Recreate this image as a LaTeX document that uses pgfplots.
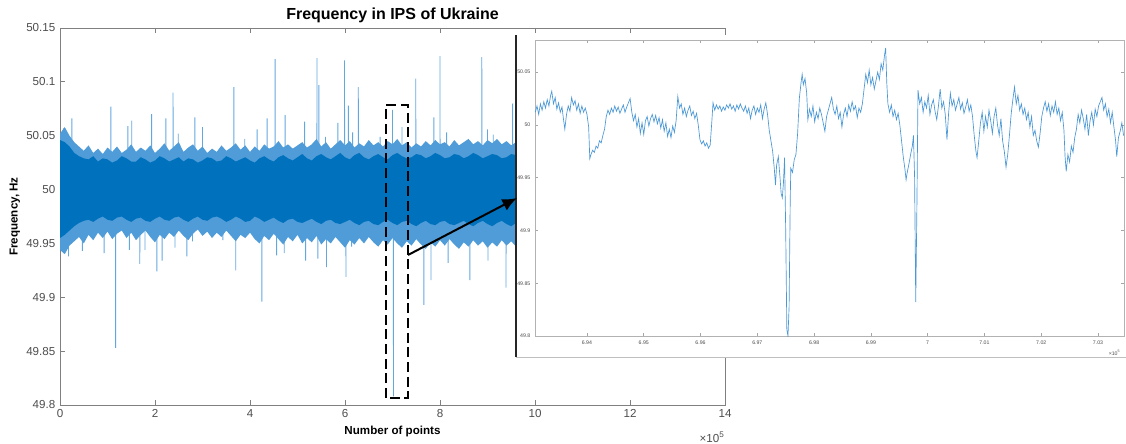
\documentclass[border=0pt]{standalone}
\usepackage{pgfplots}
\pgfplotsset{compat=1.18}
\usetikzlibrary{arrows.meta}
\usepackage{fontspec}
\setmainfont{Liberation Sans}
\definecolor{mblue}{HTML}{0072BD}
\definecolor{lblue}{HTML}{4F9CD8}
\definecolor{spk}{HTML}{62A8DE}
\definecolor{ilne}{HTML}{4A98D6}
\definecolor{axgray}{HTML}{808080}
\definecolor{txgray}{HTML}{4D4D4D}
\begin{document}
\begin{tikzpicture}[x=0.75pt,y=0.75pt]
\path[use as bounding box] (0,0) rectangle (1126,443);
\begin{axis}[
  at={(45pt,28.5pt)}, anchor=south west, scale only axis,
  width=498.75pt, height=282.75pt,
  xmin=0, xmax=14, ymin=49.8, ymax=50.15,
  xtick={0,2,4,6,8,10,12,14}, xticklabels={0,2,4,6,8,10,12,14},
  ytick={49.8,49.85,49.9,49.95,50,50.05,50.1,50.15},
  yticklabels={49.8,49.85,49.9,49.95,50,50.05,50.1,50.15},
  tick align=inside, major tick length=3.75pt,
  axis line style={axgray, line width=0.6pt},
  tick style={axgray, line width=0.6pt},
  ticklabel style={font=\fontsize{8.7}{10}\selectfont, text=txgray},
  /pgf/number format/assume math mode=true,
  title={Frequency in IPS of Ukraine},
  title style={font=\bfseries\fontsize{12}{14}\selectfont, at={(axis description cs:0.5,1.013)}, anchor=center},
  xlabel={Number of points},
  xlabel style={font=\bfseries\fontsize{8.7}{10}\selectfont, at={(axis description cs:0.5,-0.07)}, anchor=center},
  ylabel={Frequency, Hz},
  ylabel style={font=\bfseries\fontsize{8.7}{10}\selectfont, at={(axis description cs:-0.068,0.5)}, anchor=center, rotate=0},
]
% spikes (drawn first, the band covers their roots)
\addplot[spk, line width=0.65pt] coordinates {
(0.078,50) (0.08,50.057) (0.082,50)
(0.178,50) (0.18,49.938) (0.182,50)
(0.248,50) (0.25,50.066) (0.252,50)
(0.468,50) (0.47,49.943) (0.472,50)
(0.928,50) (0.93,49.941) (0.932,50)
(1.068,50) (1.07,50.077) (1.072,50)
(1.168,50) (1.17,49.853) (1.172,50)
(1.428,50) (1.43,50.059) (1.432,50)
(1.458,50) (1.46,49.944) (1.462,50)
(1.508,50) (1.51,50.064) (1.512,50)
(1.678,50) (1.68,49.931) (1.682,50)
(1.788,50) (1.79,49.944) (1.792,50)
(1.928,50) (1.93,50.070) (1.932,50)
(2.038,50) (2.04,49.924) (2.042,50)
(2.148,50) (2.15,49.934) (2.152,50)
(2.228,50) (2.23,50.066) (2.232,50)
(2.378,50) (2.38,50.090) (2.382,50)
(2.418,50) (2.42,49.946) (2.422,50)
(2.488,50) (2.49,50.052) (2.492,50)
(2.668,50) (2.67,49.938) (2.672,50)
(2.788,50) (2.79,49.952) (2.792,50)
(2.838,50) (2.84,50.067) (2.842,50)
(2.998,50) (3.00,50.058) (3.002,50)
(3.428,50) (3.43,49.953) (3.432,50)
(3.658,50) (3.66,50.095) (3.662,50)
(3.698,50) (3.70,49.925) (3.702,50)
(3.888,50) (3.89,50.047) (3.892,50)
(4.148,50) (4.15,50.056) (4.152,50)
(4.248,50) (4.25,49.896) (4.252,50)
(4.358,50) (4.36,50.066) (4.362,50)
(4.528,50) (4.53,50.121) (4.532,50)
(4.558,50) (4.56,49.939) (4.562,50)
(4.718,50) (4.72,49.941) (4.722,50)
(4.738,50) (4.74,50.069) (4.742,50)
(5.148,50) (5.15,50.063) (5.152,50)
(5.168,50) (5.17,49.934) (5.172,50)
(5.408,50) (5.41,50.122) (5.412,50)
(5.428,50) (5.43,49.936) (5.432,50)
(5.448,50) (5.45,50.097) (5.452,50)
(5.588,50) (5.59,50.049) (5.592,50)
(5.608,50) (5.61,49.928) (5.612,50)
(5.848,50) (5.85,50.062) (5.852,50)
(5.988,50) (5.99,50.120) (5.992,50)
(6.018,50) (6.02,49.919) (6.022,50)
(6.068,50) (6.07,50.078) (6.072,50)
(6.138,50) (6.14,49.947) (6.142,50)
(6.158,50) (6.16,50.053) (6.162,50)
(6.278,50) (6.28,50.095) (6.282,50)
(6.488,50) (6.49,50.043) (6.492,50)
(6.738,50) (6.74,50.049) (6.742,50)
(6.998,50) (7.00,50.074) (7.002,50)
(7.018,50) (7.02,49.808) (7.022,50)
(7.198,50) (7.20,50.058) (7.202,50)
(7.488,50) (7.49,50.103) (7.492,50)
(7.658,50) (7.66,49.893) (7.662,50)
(7.808,50) (7.81,49.916) (7.812,50)
(7.868,50) (7.87,50.067) (7.872,50)
(7.998,50) (8.00,50.124) (8.002,50)
(8.138,50) (8.14,50.053) (8.142,50)
(8.168,50) (8.17,49.932) (8.172,50)
(8.628,50) (8.63,49.916) (8.632,50)
(8.878,50) (8.88,50.123) (8.882,50)
(8.998,50) (9.00,50.056) (9.002,50)
(9.008,50) (9.01,49.934) (9.012,50)
(9.118,50) (9.12,50.051) (9.122,50)
(9.388,50) (9.39,49.909) (9.392,50)
(9.528,50) (9.53,50.080) (9.532,50)
};
% light fuzz band
\addplot[draw=none, fill=lblue] coordinates {
(0.0,50.052) (0.1,50.058) (0.2,50.050) (0.3,50.044) (0.4,50.040) (0.5,50.036) (0.6,50.041) (0.7,50.034) (0.8,50.038) (0.9,50.033)
(1.0,50.039) (1.1,50.035) (1.2,50.040) (1.3,50.034) (1.4,50.037) (1.5,50.042) (1.6,50.035) (1.7,50.039) (1.8,50.036) (1.9,50.041)
(2.0,50.034) (2.1,50.038) (2.2,50.043) (2.3,50.036) (2.4,50.040) (2.5,50.044) (2.6,50.035) (2.7,50.039) (2.8,50.042) (2.9,50.036)
(3.0,50.040) (3.1,50.034) (3.2,50.038) (3.3,50.035) (3.4,50.041) (3.5,50.036) (3.6,50.039) (3.7,50.043) (3.8,50.037) (3.9,50.041)
(4.0,50.035) (4.1,50.040) (4.2,50.036) (4.3,50.042) (4.4,50.038) (4.5,50.040) (4.6,50.045) (4.7,50.039) (4.8,50.042) (4.9,50.038)
(5.0,50.041) (5.1,50.044) (5.2,50.039) (5.3,50.042) (5.4,50.047) (5.5,50.040) (5.6,50.044) (5.7,50.038) (5.8,50.042) (5.9,50.046)
(6.0,50.041) (6.1,50.045) (6.2,50.039) (6.3,50.043) (6.4,50.040) (6.5,50.046) (6.6,50.041) (6.7,50.044) (6.8,50.040) (6.9,50.045)
(7.0,50.042) (7.1,50.047) (7.2,50.041) (7.3,50.044) (7.4,50.039) (7.5,50.043) (7.6,50.040) (7.7,50.045) (7.8,50.041) (7.9,50.046)
(8.0,50.042) (8.1,50.044) (8.2,50.040) (8.3,50.046) (8.4,50.041) (8.5,50.044) (8.6,50.047) (8.7,50.042) (8.8,50.045) (8.9,50.041)
(9.0,50.046) (9.1,50.043) (9.2,50.047) (9.3,50.042) (9.4,50.045) (9.5,50.041) (9.6,50.044) (9.7,50.042) (9.8,50.045) (9.9,50.043) (10.0,50.044)
(10.0,49.949) (9.9,49.952) (9.8,49.948) (9.7,49.951) (9.6,49.947) (9.5,49.952) (9.4,49.948) (9.3,49.953) (9.2,49.947) (9.1,49.951) (9.0,49.946)
(8.9,49.952) (8.8,49.948) (8.7,49.953) (8.6,49.947) (8.5,49.951) (8.4,49.945) (8.3,49.949) (8.2,49.954) (8.1,49.948) (8.0,49.953)
(7.9,49.947) (7.8,49.951) (7.7,49.945) (7.6,49.949) (7.5,49.954) (7.4,49.948) (7.3,49.952) (7.2,49.946) (7.1,49.950) (7.0,49.955)
(6.9,49.949) (6.8,49.953) (6.7,49.947) (6.6,49.951) (6.5,49.956) (6.4,49.950) (6.3,49.955) (6.2,49.949) (6.1,49.953) (6.0,49.946)
(5.9,49.951) (5.8,49.956) (5.7,49.950) (5.6,49.954) (5.5,49.949) (5.4,49.957) (5.3,49.951) (5.2,49.955) (5.1,49.950) (5.0,49.958)
(4.9,49.952) (4.8,49.956) (4.7,49.949) (4.6,49.954) (4.5,49.959) (4.4,49.953) (4.3,49.957) (4.2,49.950) (4.1,49.954) (4.0,49.960)
(3.9,49.955) (3.8,49.958) (3.7,49.952) (3.6,49.957) (3.5,49.962) (3.4,49.956) (3.3,49.960) (3.2,49.955) (3.1,49.961) (3.0,49.957)
(2.9,49.963) (2.8,49.959) (2.7,49.953) (2.6,49.957) (2.5,49.962) (2.4,49.956) (2.3,49.960) (2.2,49.954) (2.1,49.958) (2.0,49.951)
(1.9,49.956) (1.8,49.962) (1.7,49.958) (1.6,49.953) (1.5,49.960) (1.4,49.955) (1.3,49.962) (1.2,49.959) (1.1,49.954) (1.0,49.961)
(0.9,49.955) (0.8,49.960) (0.7,49.953) (0.6,49.958) (0.5,49.950) (0.4,49.956) (0.3,49.952) (0.2,49.948) (0.1,49.940) (0.0,49.944)
};
% dark core band
\addplot[draw=none, fill=mblue] coordinates {
(0.0,50.046) (0.1,50.044) (0.2,50.040) (0.3,50.034) (0.4,50.031) (0.5,50.029) (0.6,50.028) (0.7,50.031) (0.8,50.026) (0.9,50.029)
(1.0,50.028) (1.1,50.025) (1.2,50.027) (1.3,50.031) (1.4,50.029) (1.5,50.026) (1.6,50.026) (1.7,50.030) (1.8,50.028) (1.9,50.025)
(2.0,50.027) (2.1,50.031) (2.2,50.029) (2.3,50.026) (2.4,50.028) (2.5,50.030) (2.6,50.026) (2.7,50.029) (2.8,50.028) (2.9,50.025)
(3.0,50.027) (3.1,50.030) (3.2,50.029) (3.3,50.026) (3.4,50.027) (3.5,50.031) (3.6,50.029) (3.7,50.026) (3.8,50.028) (3.9,50.030)
(4.0,50.027) (4.1,50.025) (4.2,50.029) (4.3,50.031) (4.4,50.028) (4.5,50.026) (4.6,50.030) (4.7,50.032) (4.8,50.029) (4.9,50.027)
(5.0,50.030) (5.1,50.033) (5.2,50.029) (5.3,50.027) (5.4,50.031) (5.5,50.033) (5.6,50.030) (5.7,50.028) (5.8,50.031) (5.9,50.034)
(6.0,50.030) (6.1,50.028) (6.2,50.032) (6.3,50.034) (6.4,50.030) (6.5,50.028) (6.6,50.031) (6.7,50.033) (6.8,50.030) (6.9,50.028)
(7.0,50.032) (7.1,50.034) (7.2,50.031) (7.3,50.029) (7.4,50.030) (7.5,50.033) (7.6,50.032) (7.7,50.029) (7.8,50.031) (7.9,50.034)
(8.0,50.032) (8.1,50.029) (8.2,50.030) (8.3,50.033) (8.4,50.032) (8.5,50.029) (8.6,50.031) (8.7,50.034) (8.8,50.032) (8.9,50.029)
(9.0,50.031) (9.1,50.033) (9.2,50.032) (9.3,50.029) (9.4,50.030) (9.5,50.033) (9.6,50.032) (9.7,50.030) (9.8,50.031) (9.9,50.033) (10.0,50.031)
(10.0,49.969) (9.9,49.967) (9.8,49.968) (9.7,49.971) (9.6,49.969) (9.5,49.966) (9.4,49.968) (9.3,49.971) (9.2,49.969) (9.1,49.966)
(9.0,49.968) (8.9,49.971) (8.8,49.969) (8.7,49.966) (8.6,49.968) (8.5,49.971) (8.4,49.969) (8.3,49.967) (8.2,49.968) (8.1,49.971)
(8.0,49.970) (7.9,49.967) (7.8,49.968) (7.7,49.971) (7.6,49.969) (7.5,49.966) (7.4,49.968) (7.3,49.971) (7.2,49.970) (7.1,49.967)
(7.0,49.969) (6.9,49.972) (6.8,49.970) (6.7,49.967) (6.6,49.968) (6.5,49.971) (6.4,49.970) (6.3,49.967) (6.2,49.969) (6.1,49.972)
(6.0,49.970) (5.9,49.968) (5.8,49.969) (5.7,49.972) (5.6,49.971) (5.5,49.968) (5.4,49.970) (5.3,49.973) (5.2,49.971) (5.1,49.969)
(5.0,49.970) (4.9,49.973) (4.8,49.972) (4.7,49.969) (4.6,49.971) (4.5,49.974) (4.4,49.972) (4.3,49.970) (4.2,49.973) (4.1,49.975)
(4.0,49.971) (3.9,49.970) (3.8,49.973) (3.7,49.975) (3.6,49.972) (3.5,49.970) (3.4,49.973) (3.3,49.975) (3.2,49.974) (3.1,49.971)
(3.0,49.972) (2.9,49.975) (2.8,49.973) (2.7,49.970) (2.6,49.972) (2.5,49.975) (2.4,49.974) (2.3,49.971) (2.2,49.972) (2.1,49.975)
(2.0,49.973) (1.9,49.970) (1.8,49.971) (1.7,49.974) (1.6,49.973) (1.5,49.970) (1.4,49.972) (1.3,49.975) (1.2,49.974) (1.1,49.971)
(1.0,49.972) (0.9,49.975) (0.8,49.973) (0.7,49.970) (0.6,49.972) (0.5,49.971) (0.4,49.969) (0.3,49.966) (0.2,49.962) (0.1,49.958) (0.0,49.955)
};
\draw[black, line width=1.5pt, dash pattern=on 7.5pt off 3.5pt] (axis cs:6.863,49.8066) rectangle (axis cs:7.326,50.0785);
\end{axis}
\node[font=\fontsize{8.7}{10}\selectfont, text=txgray] at (712,6) {×10\textsuperscript{5}};
% inset panel
\fill[white] (516,86) rectangle (1126,408);
\draw[black!85, line width=1.5pt] (516,86) -- (516,408);
\draw[gray!50, line width=0.6pt] (516,86) -- (1126,86);
\begin{axis}[
  at={(401.25pt,80.25pt)}, anchor=south west, scale only axis,
  width=441.75pt, height=222pt,
  xmin=6.93085, xmax=7.03458, ymin=49.8, ymax=50.0805,
  xtick={6.94,6.95,6.96,6.97,6.98,6.99,7,7.01,7.02,7.03},
  xticklabels={6.94,6.95,6.96,6.97,6.98,6.99,7,7.01,7.02,7.03},
  ytick={49.8,49.85,49.9,49.95,50,50.05},
  yticklabels={49.8,49.85,49.9,49.95,50,50.05},
  tick align=inside, major tick length=2.5pt,
  axis line style={gray!60, line width=0.5pt},
  tick style={gray!70, line width=0.5pt},
  ticklabel style={font=\fontsize{3.9}{4.5}\selectfont, text=txgray},
  /pgf/number format/assume math mode=true,
]
\addplot[ilne, line width=0.5pt] coordinates {
(6.9309,50.012) (6.9312,50.018) (6.9315,50.010) (6.9318,50.020) (6.9321,50.014) (6.9324,50.022) (6.9327,50.016) (6.9330,50.024)
(6.9333,50.018) (6.9336,50.028) (6.9338,50.032) (6.9341,50.020) (6.9344,50.026) (6.9347,50.015) (6.9350,50.021) (6.9353,50.012)
(6.9356,50.017) (6.9359,50.004) (6.9361,49.996) (6.9364,50.010) (6.9367,50.018) (6.9370,50.013) (6.9373,50.026) (6.9376,50.019)
(6.9379,50.023) (6.9382,50.014) (6.9385,50.020) (6.9388,50.011) (6.9391,50.018) (6.9394,50.012) (6.9397,50.016) (6.9400,50.010)
(6.9403,49.998) (6.9405,49.968) (6.9407,49.972) (6.9410,49.976) (6.9413,49.974) (6.9416,49.980) (6.9419,49.978) (6.9422,49.985)
(6.9425,49.983) (6.9428,49.990) (6.9431,49.996) (6.9434,50.008) (6.9437,50.014) (6.9440,50.010) (6.9443,50.016) (6.9446,50.012)
(6.9449,50.018) (6.9452,50.013) (6.9455,50.017) (6.9458,50.011) (6.9461,50.015) (6.9464,50.019) (6.9467,50.012) (6.9470,50.017)
(6.9473,50.021) (6.9476,50.025) (6.9479,50.012) (6.9482,50.004) (6.9485,50.010) (6.9488,49.998) (6.9491,50.006) (6.9494,49.992)
(6.9497,50.002) (6.9500,49.991) (6.9503,50.004) (6.9506,50.008) (6.9509,49.999) (6.9512,50.006) (6.9515,50.010) (6.9518,50.003)
(6.9521,50.009) (6.9524,50.001) (6.9527,50.007) (6.9530,49.997) (6.9533,50.005) (6.9536,49.994) (6.9539,50.002) (6.9542,49.989)
(6.9545,49.996) (6.9548,49.988) (6.9551,49.999) (6.9554,49.993) (6.9557,50.004) (6.9560,50.027) (6.9563,50.016) (6.9566,50.020)
(6.9569,50.010) (6.9572,50.016) (6.9575,50.008) (6.9578,50.014) (6.9581,50.018) (6.9584,50.009) (6.9587,50.013) (6.9590,50.006)
(6.9593,50.011) (6.9596,50.000) (6.9599,49.986) (6.9602,49.982) (6.9605,49.985) (6.9608,49.980) (6.9611,49.983) (6.9614,49.978)
(6.9617,49.981) (6.9620,50.004) (6.9622,50.021) (6.9625,50.014) (6.9628,50.019) (6.9631,50.015) (6.9634,50.018) (6.9637,50.013)
(6.9640,50.017) (6.9643,50.014) (6.9646,50.019) (6.9649,50.016) (6.9652,50.020) (6.9655,50.015) (6.9658,50.018) (6.9661,50.013)
(6.9664,50.019) (6.9667,50.015) (6.9670,50.020) (6.9673,50.016) (6.9676,50.013) (6.9679,50.018) (6.9682,50.011) (6.9685,50.016)
(6.9688,50.006) (6.9691,50.014) (6.9694,50.018) (6.9697,50.010) (6.9700,50.016) (6.9703,50.012) (6.9706,50.019) (6.9709,50.006)
(6.9712,50.015) (6.9715,50.021) (6.9718,50.010) (6.9721,49.995) (6.9724,49.985) (6.9727,49.975) (6.9730,49.958) (6.9732,49.943)
(6.9734,49.962) (6.9737,49.970) (6.9740,49.950) (6.9742,49.935) (6.9744,49.931) (6.9746,49.945) (6.9748,49.969) (6.9750,49.900)
(6.9752,49.806) (6.9754,49.800) (6.9756,49.828) (6.9758,49.930) (6.9759,49.959) (6.9762,49.955) (6.9765,49.967) (6.9768,49.972)
(6.9771,49.992) (6.9774,50.025) (6.9777,50.040) (6.9779,50.048) (6.9781,50.038) (6.9784,50.044) (6.9787,50.030) (6.9789,50.005)
(6.9792,50.015) (6.9795,50.008) (6.9798,50.018) (6.9801,50.003) (6.9804,50.012) (6.9807,50.006) (6.9810,50.016) (6.9813,50.010)
(6.9816,50.002) (6.9819,49.994) (6.9822,50.008) (6.9825,50.014) (6.9828,50.020) (6.9831,50.026) (6.9834,50.015) (6.9837,50.010)
(6.9840,50.018) (6.9843,50.006) (6.9846,50.012) (6.9849,49.998) (6.9852,50.010) (6.9855,50.016) (6.9858,50.008) (6.9861,50.019)
(6.9864,50.013) (6.9867,50.022) (6.9870,50.014) (6.9873,50.018) (6.9876,50.007) (6.9879,50.016) (6.9882,50.012) (6.9885,50.020)
(6.9888,50.034) (6.9891,50.048) (6.9894,50.040) (6.9897,50.052) (6.9900,50.038) (6.9903,50.045) (6.9906,50.034) (6.9909,50.042)
(6.9912,50.050) (6.9915,50.043) (6.9918,50.058) (6.9921,50.052) (6.9924,50.066) (6.9926,50.073) (6.9928,50.040) (6.9930,50.020)
(6.9933,50.012) (6.9936,50.019) (6.9939,50.008) (6.9942,50.014) (6.9945,50.005) (6.9948,50.011) (6.9951,50.000) (6.9954,49.985)
(6.9957,49.970) (6.9960,49.958) (6.9962,49.948) (6.9964,49.955) (6.9967,49.963) (6.9970,49.972) (6.9973,49.980) (6.9975,49.990)
(6.9977,49.950) (6.9979,49.832) (6.9981,49.920) (6.9983,50.033) (6.9986,50.020) (6.9989,50.026) (6.9992,50.012) (6.9995,50.022)
(6.9998,50.016) (7.0001,50.028) (7.0004,50.010) (7.0007,50.019) (7.0010,50.024) (7.0013,50.013) (7.0016,50.005) (7.0019,50.018)
(7.0022,50.034) (7.0025,50.016) (7.0028,50.022) (7.0031,50.010) (7.0034,49.986) (7.0037,50.012) (7.0040,50.030) (7.0043,50.018)
(7.0046,50.024) (7.0049,50.014) (7.0052,50.020) (7.0055,50.026) (7.0058,50.015) (7.0061,50.021) (7.0064,50.011) (7.0067,50.017)
(7.0070,50.024) (7.0073,50.013) (7.0076,50.019) (7.0079,50.008) (7.0082,49.990) (7.0085,49.975) (7.0087,49.969) (7.0090,49.985)
(7.0093,50.002) (7.0096,50.012) (7.0099,49.994) (7.0102,50.008) (7.0105,49.998) (7.0108,50.014) (7.0111,50.004) (7.0114,49.992)
(7.0117,50.008) (7.0120,50.016) (7.0123,50.000) (7.0126,49.990) (7.0129,50.006) (7.0132,49.985) (7.0135,49.975) (7.0138,49.960)
(7.0141,49.972) (7.0144,49.990) (7.0147,50.010) (7.0150,50.024) (7.0153,50.036) (7.0156,50.020) (7.0159,50.028) (7.0162,50.014)
(7.0165,50.020) (7.0168,50.010) (7.0171,50.016) (7.0174,50.005) (7.0177,50.012) (7.0180,49.998) (7.0183,50.008) (7.0186,49.990)
(7.0189,49.995) (7.0192,49.985) (7.0195,49.979) (7.0198,49.992) (7.0201,50.008) (7.0204,50.016) (7.0207,50.022) (7.0210,50.013)
(7.0213,50.020) (7.0216,50.009) (7.0219,50.018) (7.0222,50.012) (7.0225,50.022) (7.0228,50.010) (7.0231,50.016) (7.0234,50.004)
(7.0237,50.012) (7.0240,49.995) (7.0242,49.970) (7.0244,49.956) (7.0247,49.972) (7.0250,49.965) (7.0253,49.980) (7.0256,49.974)
(7.0259,49.988) (7.0262,49.996) (7.0265,50.010) (7.0268,50.002) (7.0271,50.014) (7.0274,50.006) (7.0277,49.996) (7.0280,50.010)
(7.0283,49.990) (7.0286,50.004) (7.0289,50.012) (7.0292,50.000) (7.0295,50.015) (7.0298,50.008) (7.0301,50.018) (7.0304,50.022)
(7.0307,50.026) (7.0310,50.014) (7.0313,50.020) (7.0316,50.008) (7.0319,50.015) (7.0322,50.002) (7.0325,50.012) (7.0328,49.998)
(7.0331,49.985) (7.0333,49.970) (7.0336,49.988) (7.0339,49.994) (7.0342,50.002) (7.0345,49.990)
};
\end{axis}
\node[anchor=east, font=\fontsize{3.9}{4.5}\selectfont, text=txgray] at (1125,90) {×10\textsuperscript{5}};
\draw[black, line width=1.5pt, -{Latex[length=11pt,width=9.5pt]}] (408,188) -- (517,245);
\end{tikzpicture}
\end{document}
